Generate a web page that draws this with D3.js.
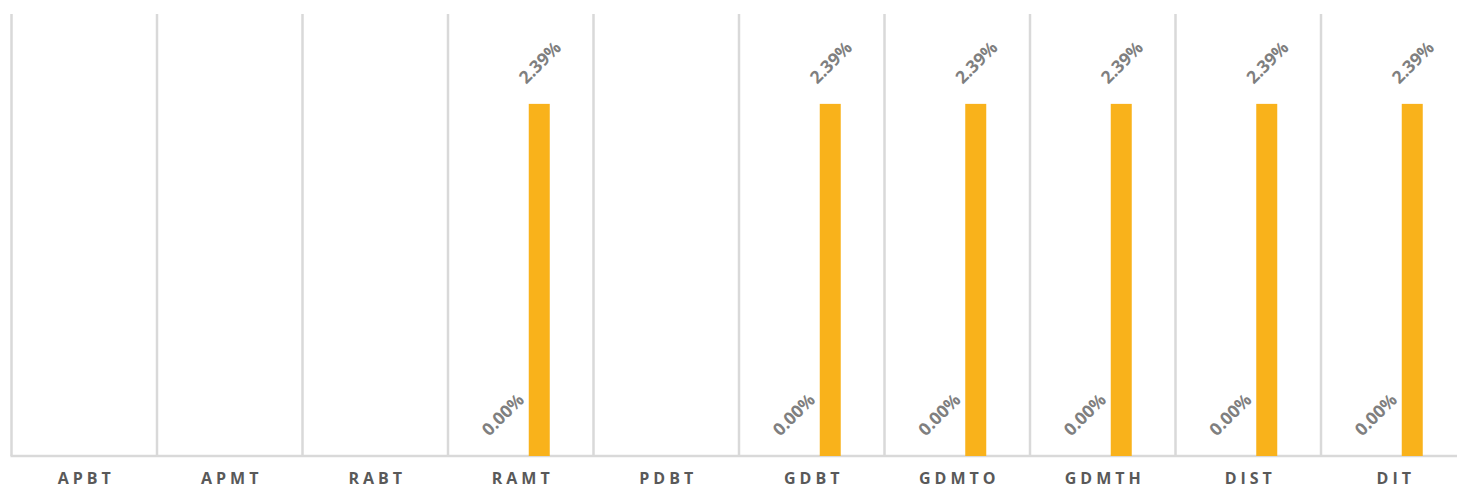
<!DOCTYPE html>
<html>
<head>
<meta charset="utf-8">
<script src="https://cdn.jsdelivr.net/npm/d3@7"></script>
<style>
  html, body { margin: 0; padding: 0; background: #fff; overflow: hidden; }
</style>
</head>
<body>
<div id="chart"></div>
<script>
// categories and the two series (null = no value / no label)
var categories = ["APBT", "APMT", "RABT", "RAMT", "PDBT", "GDBT", "GDMTO", "GDMTH", "DIST", "DIT"];
var seriesNames = ["s1", "s2"];
var seriesA = [null, null, null, 0.0, null, 0.0, 0.0, 0.0, 0.0, 0.0];
var seriesB = [null, null, null, 0.0239, null, 0.0239, 0.0239, 0.0239, 0.0239, 0.0239];
var yMax = 0.03;

var width = 1457, height = 489;
var margin = {left: 11.5, right: -9.5, top: 14, bottom: 33};

var svg = d3.select("#chart").append("svg")
  .attr("width", width)
  .attr("height", height);

var x = d3.scaleBand()
  .domain(categories)
  .range([margin.left, width - margin.right])
  .paddingInner(0).paddingOuter(0);

// series positions inside one category
var xs = d3.scaleBand()
  .domain(seriesNames)
  .range([-29, 29])
  .paddingInner(16 / 37)
  .paddingOuter(0);

var y = d3.scaleLinear()
  .domain([0, yMax])
  .range([height - margin.bottom, margin.top]);

var fmt = d3.format(".2%");

// vertical grid lines on category boundaries
var bounds = categories.map(function(c) { return x(c); });
bounds.push(x.range()[1]);
svg.selectAll(".grid")
  .data(bounds)
  .enter().append("line")
  .attr("x1", function(d) { return d; })
  .attr("x2", function(d) { return d; })
  .attr("y1", y(yMax))
  .attr("y2", y(0))
  .attr("stroke", "#d9d9d9")
  .attr("stroke-width", 2.5);

// axis line
svg.append("line")
  .attr("x1", x.range()[0] - 1)
  .attr("x2", x.range()[1])
  .attr("y1", y(0))
  .attr("y2", y(0))
  .attr("stroke", "#d9d9d9")
  .attr("stroke-width", 2.5);

var rows = [];
categories.forEach(function(c, i) {
  rows.push({cat: c, s: "s1", v: seriesA[i]});
  rows.push({cat: c, s: "s2", v: seriesB[i]});
});
rows = rows.filter(function(d) { return d.v !== null; });

function cx(d) {
  return x(d.cat) + x.bandwidth() / 2 + xs(d.s) + xs.bandwidth() / 2;
}

svg.selectAll(".bar")
  .data(rows.filter(function(d) { return d.v > 0; }))
  .enter().append("rect")
  .attr("x", function(d) { return cx(d) - xs.bandwidth() / 2; })
  .attr("y", function(d) { return y(d.v); })
  .attr("width", xs.bandwidth())
  .attr("height", function(d) { return y(0) - y(d.v); })
  .attr("fill", "#F9B21B");

// rotated value labels
svg.selectAll(".lbl")
  .data(rows)
  .enter().append("text")
  .attr("transform", function(d) {
    return "translate(" + cx(d) + "," + (y(d.v) - 42) + ") rotate(-45)";
  })
  .attr("text-anchor", "middle")
  .attr("dominant-baseline", "central")
  .style("font-family", "'Open Sans', sans-serif")
  .style("font-weight", "bold")
  .style("font-size", "17.5px")
  .style("fill", "#7f7f7f")
  .text(function(d) { return fmt(d.v); });

// category labels
svg.selectAll(".cat")
  .data(categories)
  .enter().append("text")
  .attr("x", function(d) { return x(d) + x.bandwidth() / 2 + 2; })
  .attr("y", 484)
  .attr("text-anchor", "middle")
  .style("font-family", "'Open Sans', sans-serif")
  .style("font-weight", "bold")
  .style("font-size", "16px")
  .style("letter-spacing", "4px")
  .style("fill", "#595959")
  .text(function(d) { return d; });
</script>
</body>
</html>
